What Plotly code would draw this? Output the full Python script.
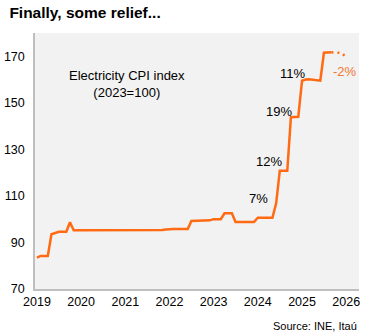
import pandas as pd
import plotly.graph_objects as go

# Electricity CPI index (2023=100), monthly, Jan 2019 - Sep 2025
cpi_values = [
    83.5, 84.2, 84.2, 84.2, 93.5, 94.0, 94.6, 94.6, 94.6, 98.7, 95.2, 95.2,   # 2019
    95.2, 95.2, 95.2, 95.2, 95.2, 95.2, 95.2, 95.2, 95.2, 95.2, 95.2, 95.2,   # 2020
    95.2, 95.2, 95.2, 95.2, 95.2, 95.2, 95.2, 95.2, 95.2, 95.2, 95.4, 95.6,   # 2021
    95.8, 95.8, 95.8, 95.8, 95.8, 95.8, 99.2, 99.2, 99.2, 99.2, 99.2, 99.5,   # 2022
    100.0, 100.0, 100.0, 102.5, 102.5, 102.5, 98.8, 98.8, 98.8, 98.8, 98.8, 98.8,  # 2023
    100.6, 100.6, 100.6, 100.6, 100.6, 106.8, 120.8, 120.8, 120.8, 143.8, 144.0, 144.0,  # 2024
    159.5, 160.0, 160.1, 160.0, 159.7, 159.5, 171.5, 171.7, 171.7,          # 2025
]
cpi_start = "2019-01-01"

# Forecast path, Sep 2025 - Jan 2026
forecast_values = [171.7, 171.7, 171.5, 171.2, 169.3]
forecast_start = "2025-09-01"

# Year-over-year change labels: (text, date, level)
change_labels = ["7%", "12%", "19%", "11%"]
change_dates = ["2024-01-05", "2024-04-05", "2024-06-27", "2024-10-12"]
change_levels = [108.7, 124.6, 146.1, 162.8]
forecast_label = "-2%"
forecast_label_date = "2025-12-24"
forecast_label_level = 163.3

year_ticks = [str(y) for y in range(2019, 2027)]

ORANGE = "#ff6a13"
FONT = "Liberation Sans, Arial, sans-serif"

cpi_dates = pd.date_range(cpi_start, periods=len(cpi_values), freq="MS")
fc_dates = pd.date_range(forecast_start, periods=len(forecast_values), freq="MS")

fig = go.Figure()
fig.add_trace(go.Scatter(
    x=cpi_dates, y=cpi_values, mode="lines",
    line=dict(color=ORANGE, width=2.5), hoverinfo="x+y", showlegend=False,
))
fig.add_trace(go.Scatter(
    x=fc_dates, y=forecast_values, mode="lines",
    line=dict(color=ORANGE, width=2.5, dash="2px,4px"), showlegend=False,
))

for txt, d, lv in zip(change_labels, change_dates, change_levels):
    fig.add_annotation(x=d, y=lv, text=txt, showarrow=False,
                       font=dict(family=FONT, size=13, color="#000000"))
fig.add_annotation(x=forecast_label_date, y=forecast_label_level, text=forecast_label,
                   showarrow=False, font=dict(family=FONT, size=13, color="#f07830"))

fig.add_annotation(x="2021-01-15", y=158.3, text="Electricity CPI index<br>(2023=100)",
                   showarrow=False, align="center",
                   font=dict(family=FONT, size=13, color="#000000"))

fig.update_layout(
    width=375, height=336,
    margin=dict(l=35, r=16, t=33, b=47),
    paper_bgcolor="#ffffff", plot_bgcolor="#f2f2f2",
    font=dict(family=FONT, size=12.5, color="#000000"),
    title=dict(text="<b>Finally, some relief...</b>", x=0.025, xanchor="left",
               y=0.962, yanchor="middle",
               font=dict(family=FONT, size=15.5, color="#000000")),
    xaxis=dict(
        type="date", range=["2018-12-16", "2026-04-17"], automargin=False,
        tickvals=[f"{y}-01-01" for y in year_ticks], ticktext=year_ticks,
        showgrid=False, zeroline=False, showline=True, linecolor="#bfbfbf",
        linewidth=1.5, ticks="", tickfont=dict(size=12.5, color="#000000"),
    ),
    yaxis=dict(
        range=[70, 180], tickvals=[70, 90, 110, 130, 150, 170], automargin=False,
        showgrid=False, zeroline=False, showline=True, linecolor="#bfbfbf",
        linewidth=1.5, ticks="", ticklabelstandoff=6,
        tickfont=dict(size=12.5, color="#000000"),
    ),
)
fig.add_annotation(xref="paper", yref="paper", x=1.0, y=-0.115, xanchor="right",
                   yanchor="top", text="Source: INE, Itaú", showarrow=False,
                   font=dict(family=FONT, size=11, color="#000000"))

fig.write_html("out.html")
